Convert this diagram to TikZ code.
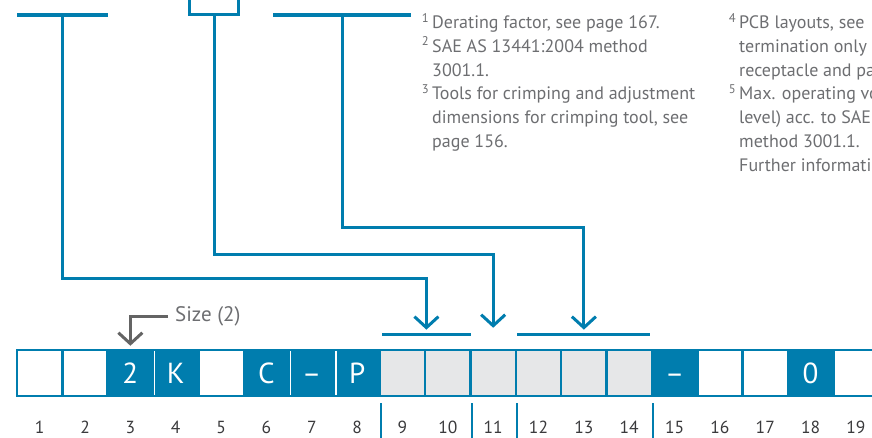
\documentclass[tikz,border=0pt]{standalone}
\usepackage{fontspec}
\setmainfont{PT Sans}
\usetikzlibrary{arrows.meta,positioning}
\definecolor{cblue}{HTML}{007DAE}
\definecolor{cgray}{HTML}{E6E7E8}
\definecolor{notegray}{HTML}{6D6E71}
\definecolor{numgray}{HTML}{3A3A3C}
\definecolor{pointgray}{HTML}{646464}
\newcommand{\celldash}{\vphantom{P}–}
\tikzset{
  cell/.style={draw=cblue, line width=2.5pt, minimum width=45.35pt, minimum height=46pt, inner sep=0pt, text=white, font=\fontsize{29}{32}\selectfont},
  emptycell/.style={cell, fill=white},
  codecell/.style={cell, fill=cblue},
  varcell/.style={cell, fill=cgray},
  cellgap/.style={draw=white, line width=1.6pt},
  num/.style={inner sep=0pt, text=numgray, font=\fontsize{17.5}{20}\selectfont},
  bar/.style={fill=cblue, inner sep=0pt, minimum height=3.2pt},
  topbox/.style={draw=cblue, line width=3pt, inner sep=0pt, minimum width=49pt, minimum height=33pt},
  link/.style={draw=cblue, line width=3pt, -{Straight Barb[length=11pt,width=24pt]}},
  tick/.style={draw=cblue, line width=2pt},
  note/.style={inner sep=0pt, align=left, text=notegray, font=\fontsize{18}{23.8}\selectfont},
  pointer/.style={draw=pointgray, line width=3pt, -{Straight Barb[length=11pt,width=24pt]}},
  pointerlabel/.style={inner xsep=7pt, inner ysep=0pt, text=notegray, font=\fontsize{21}{24}\selectfont}
}

\begin{document}
\begin{tikzpicture}[x=1pt, y=-1pt]
\useasboundingbox (0,0) rectangle (872,438);

% code strip
\foreach \i/\kind/\txt in {1/emptycell/{},2/emptycell/{},3/codecell/2,4/codecell/K,5/emptycell/{},
  6/codecell/C,7/codecell/\celldash,8/codecell/P,9/varcell/{},10/varcell/{},11/varcell/{},12/varcell/{},
  13/varcell/{},14/varcell/{},15/codecell/\celldash,16/emptycell/{},17/emptycell/{},18/codecell/0,19/emptycell/{}}
  \node[\kind] (c\i) at ({17+45.35*(\i-0.5)},373) {\txt};
\foreach \a in {3,6,7}
  \draw[cellgap] ([yshift=-2pt]c\a.north east) -- ([yshift=2pt]c\a.south east);

% position numbers
\foreach \i in {1,...,19}
  \node[num, below=24pt of c\i] (n\i) {\i};
\foreach \a in {8,10,11,14}
  \draw[tick] ([yshift=-6pt]c\a.south east) -- ++(0,40);

% brackets over the variable positions
\node[bar, minimum width=89pt, above=12.5pt of c9.north east] (br1) {};
\node[bar, minimum width=133pt, above=12.5pt of c13.north] (br2) {};

% feeds from above
\node[bar, minimum width=91pt] (t1) at (62,15) {};
\node[topbox] (tbox) at (214,-2) {};
\node[bar, minimum width=138pt] (t3) at (342,15) {};
\draw[link, shorten >=3pt] (t1.south) -- ++(0,261.5) -| (br1.north);
\draw[link, shorten >=21pt] (tbox.south) -- ++(0,238.5) -| (c11.north);
\draw[link, shorten >=3pt] (t3.south) -- ++(0,210.5) -| (br2.north);

% size pointer
\node[pointerlabel, anchor=west] (size) at (168,316) {Size (2)};
\draw[pointer, shorten >=3pt] (size.west) -| (c3.north);

% footnotes
\node[note, anchor=north west] (fn1) at (432,13) {\llap{\textsuperscript{1}\,}Derating factor, see page 167.\\
  \llap{\textsuperscript{2}\,}SAE AS 13441:2004 method\\
  3001.1.\\
  \llap{\textsuperscript{3}\,}Tools for crimping and adjustment\\
  dimensions for crimping tool, see\\
  page 156.};
\node[note, anchor=north west] (fn2) at (739,13) {\llap{\textsuperscript{4}\,}PCB layouts, see\\
  termination only\\
  receptacle and pa\\
  \llap{\textsuperscript{5}\,}Max. operating vo\\
  level) acc. to SAE\\
  method 3001.1.\\
  Further informati};
\end{tikzpicture}
\end{document}
